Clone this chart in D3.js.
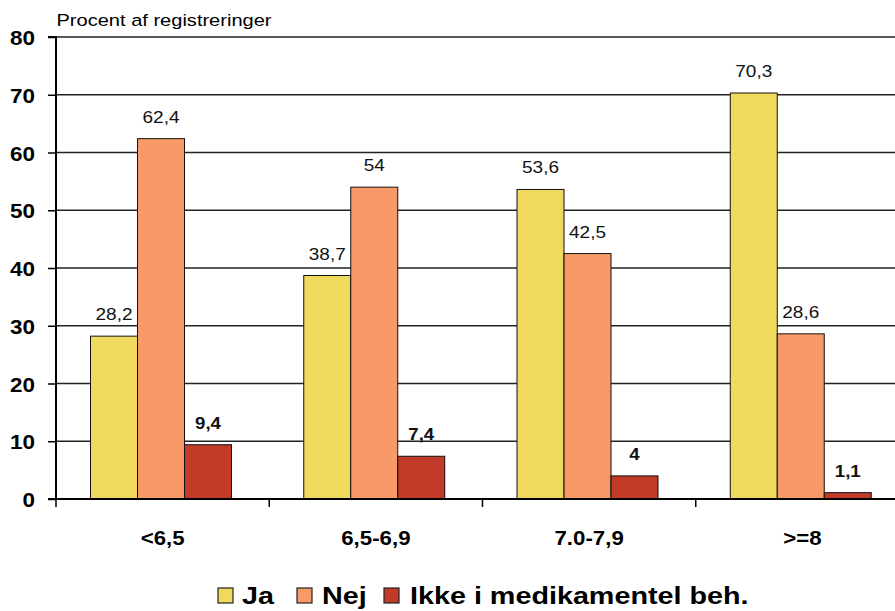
<!DOCTYPE html>
<html>
<head>
<meta charset="utf-8">
<script src="https://cdn.jsdelivr.net/npm/d3@7"></script>
<style>
  html, body { margin: 0; padding: 0; background: #fff; }
  svg { display: block; font-family: Arial, "Liberation Sans", sans-serif; }
</style>
</head>
<body>
<svg id="chart" width="895" height="611"></svg>
<script>
// HbA1c groups and share of registrations per treatment answer
const categories = ["<6,5", "6,5-6,9", "7.0-7,9", ">=8"];
const seriesNames = ["Ja", "Nej", "Ikke i medikamentel beh."];
const ja = [28.2, 38.7, 53.6, 70.3];
const nej = [62.4, 54, 42.5, 28.6];
const ikke = [9.4, 7.4, 4, 1.1];
const yTicks = [0, 10, 20, 30, 40, 50, 60, 70, 80];
const colors = ["#F0DA5E", "#F79A67", "#C23A28"];

const series = [ja, nej, ikke];
const fmt = v => String(v).replace(".", ",");
const FONT = "Arial, 'Liberation Sans', sans-serif";

const svg = d3.select("#chart");
const x0 = 56, y0 = 499, plotTop = 37;
const catWidth = 213.25;

const x = d3.scaleBand().domain(categories)
  .range([x0, x0 + catWidth * categories.length]).paddingInner(0).paddingOuter(0);
const xs = d3.scaleBand().domain(d3.range(series.length))
  .range([34.5, 34.5 + 47 * 3]);
const y = d3.scaleLinear().domain([0, 80]).range([y0, plotTop]);

// places a text at (tx, ty) with a horizontal stretch factor
function place(sel, tx, ty, sx) {
  sel.attr("x", 0).attr("y", 0)
    .attr("transform", (d, i, n) => {
      const px = typeof tx === "function" ? tx(d, i, n) : tx;
      const py = typeof ty === "function" ? ty(d, i, n) : ty;
      return `translate(${px},${py}) scale(${sx},1)`;
    });
  return sel;
}

// horizontal gridlines
svg.append("g").selectAll("line").data(yTicks.filter(d => d > 0)).join("line")
  .attr("x1", x0).attr("x2", 895)
  .attr("y1", d => y(d)).attr("y2", d => y(d))
  .attr("stroke", "#222").attr("stroke-width", 1.5);

// bars and value labels
series.forEach((vals, si) => {
  svg.append("g").selectAll("rect").data(vals).join("rect")
    .attr("x", (d, i) => x(categories[i]) + xs(si))
    .attr("y", d => y(d))
    .attr("width", xs.bandwidth())
    .attr("height", d => y0 - y(d))
    .attr("fill", colors[si])
    .attr("stroke", "#111").attr("stroke-width", 1);

  const labels = svg.append("g").selectAll("text").data(vals).join("text")
    .attr("text-anchor", "middle")
    .attr("font-size", 16.5)
    .attr("font-weight", si === 2 ? "bold" : "normal")
    .attr("fill", "#111")
    .text(d => fmt(d));
  place(labels,
    (d, i) => x(categories[i]) + xs(si) + xs.bandwidth() / 2,
    d => y(d) - 16,
    si === 2 ? 1.13 : 1.15);
});

// y axis
const yAxis = d3.axisLeft(y).tickValues(yTicks).tickSize(8);
const gy = svg.append("g").attr("transform", `translate(${x0},0)`).call(yAxis);
gy.select(".domain").attr("stroke", "#000").attr("stroke-width", 2).attr("d", `M-8,${y(80)}H0V${y0}H-8`);
gy.selectAll(".tick line").attr("stroke", "#000").attr("stroke-width", 1.5);
const yt = gy.selectAll(".tick text").attr("font-size", 21).attr("font-weight", "bold")
  .attr("fill", "#000").attr("font-family", FONT).attr("dy", "0.36em");
place(yt, -21, 0, 1.07);

// x axis
const xAxis = d3.axisBottom(x).tickSize(0);
const gx = svg.append("g").attr("transform", `translate(0,${y0})`).call(xAxis);
gx.select(".domain").attr("stroke", "#000").attr("stroke-width", 2).attr("d", `M${x0},0H895`);
const xt = gx.selectAll(".tick text").attr("font-size", 21).attr("font-weight", "bold")
  .attr("fill", "#000").attr("font-family", FONT).attr("dy", 0);
place(xt, 0, 46, 1.06);
// category separators below the axis
svg.append("g").selectAll("line").data(d3.range(categories.length + 1)).join("line")
  .attr("x1", i => x0 + i * catWidth).attr("x2", i => x0 + i * catWidth)
  .attr("y1", y0).attr("y2", y0 + 8)
  .attr("stroke", "#000").attr("stroke-width", 1.5);

// axis title
place(svg.append("text").attr("font-size", 17).attr("fill", "#000")
  .text("Procent af registreringer"), 56.5, 25.5, 1.18);

// legend
const legendItems = [
  { name: seriesNames[0], color: colors[0], bx: 218, tx: 242 },
  { name: seriesNames[1], color: colors[1], bx: 297, tx: 322 },
  { name: seriesNames[2], color: colors[2], bx: 384, tx: 410 }
];
const lg = svg.append("g");
legendItems.forEach(it => {
  lg.append("rect").attr("x", it.bx).attr("y", 588).attr("width", 15).attr("height", 15)
    .attr("fill", it.color).attr("stroke", "#222").attr("stroke-width", 1.2);
  place(lg.append("text").attr("font-size", 23).attr("font-weight", "bold").attr("fill", "#000")
    .text(it.name), it.tx, 604.3, 1.25);
});
</script>
</body>
</html>
